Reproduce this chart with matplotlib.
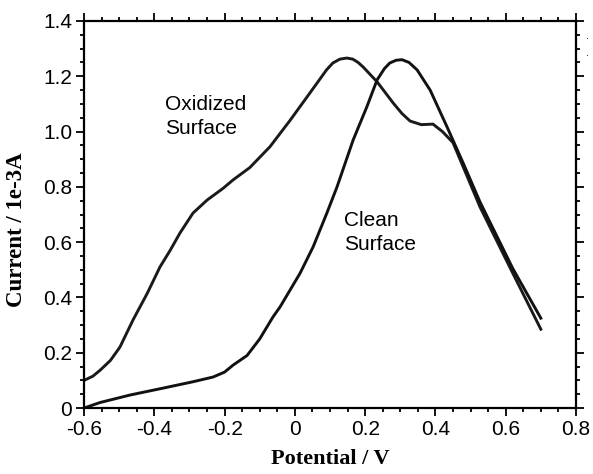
import matplotlib
matplotlib.use("Agg")
import matplotlib.pyplot as plt
from matplotlib.ticker import MultipleLocator

plt.rcParams["axes.unicode_minus"] = False

# Voltammetry curves: current (1e-3 A) vs potential (V)
oxidized_v = [-0.6, -0.575, -0.554, -0.525, -0.498, -0.46, -0.42, -0.384, -0.355, -0.327,
              -0.29, -0.25, -0.204, -0.176, -0.128, -0.071, -0.014, 0.043, 0.09, 0.108,
              0.128, 0.148, 0.165, 0.18, 0.194, 0.234, 0.28, 0.305, 0.328, 0.36, 0.393,
              0.42, 0.45, 0.527, 0.62, 0.70]
oxidized_i = [0.10, 0.115, 0.137, 0.172, 0.22, 0.32, 0.415, 0.51, 0.57, 0.633,
              0.705, 0.752, 0.795, 0.825, 0.87, 0.945, 1.04, 1.14, 1.223, 1.248,
              1.262, 1.266, 1.262, 1.25, 1.234, 1.18, 1.103, 1.065, 1.038, 1.025, 1.027,
              1.0, 0.96, 0.727, 0.488, 0.285]

clean_v = [-0.6, -0.554, -0.469, -0.375, -0.29, -0.233, -0.2, -0.176, -0.136, -0.1,
           -0.062, -0.042, 0.015, 0.052, 0.091, 0.12, 0.166, 0.205, 0.234, 0.255,
           0.27, 0.288, 0.305, 0.325, 0.348, 0.385, 0.433, 0.479, 0.527, 0.62, 0.70]
clean_i = [0.0, 0.02, 0.047, 0.072, 0.095, 0.112, 0.13, 0.155, 0.19, 0.25,
           0.33, 0.366, 0.488, 0.583, 0.705, 0.80, 0.97, 1.09, 1.187, 1.228,
           1.248, 1.258, 1.26, 1.25, 1.223, 1.15, 1.017, 0.886, 0.745, 0.505, 0.325]

x_ticks = [-0.6, -0.4, -0.2, 0.0, 0.2, 0.4, 0.6, 0.8]
x_tick_labels = ["-0.6", "-0.4", "-0.2", "0", "0.2", "0.4", "0.6", "0.8"]
y_ticks = [0.0, 0.2, 0.4, 0.6, 0.8, 1.0, 1.2, 1.4]
y_tick_labels = ["0", "0.2", "0.4", "0.6", "0.8", "1.0", "1.2", "1.4"]

fig = plt.figure(figsize=(5.93, 4.74), dpi=100)
ax = fig.add_axes([0.1417, 0.1392, 0.8296, 0.8165])

ax.plot(oxidized_v, oxidized_i, color="#1a1a1a", lw=2.1, solid_joinstyle="round")
ax.plot(clean_v, clean_i, color="#111111", lw=2.1, solid_joinstyle="round")

ax.set_xlim(-0.6, 0.8)
ax.set_ylim(0, 1.4)

ax.set_xticks(x_ticks)
ax.set_xticklabels(x_tick_labels)
ax.set_yticks(y_ticks)
ax.set_yticklabels(y_tick_labels)
ax.xaxis.set_minor_locator(MultipleLocator(0.05))
ax.yaxis.set_minor_locator(MultipleLocator(0.05))

for s in ax.spines.values():
    s.set_linewidth(1.6)
ax.tick_params(which="both", direction="out", top=True, right=True, width=1.3)
ax.tick_params(which="major", length=5.5, labelsize=15, pad=3)
ax.tick_params(which="minor", length=3)
for lbl in ax.get_xticklabels() + ax.get_yticklabels():
    lbl.set_fontfamily("Liberation Sans")

ax.set_xlabel("Potential / V", fontfamily="Liberation Serif", fontweight="bold",
              fontsize=16, labelpad=7)
ax.set_ylabel("Current / 1e-3A", fontfamily="Liberation Serif", fontweight="bold",
              fontsize=16.5, labelpad=9)
ax.yaxis.set_label_coords(-0.115, 0.46)

ax.text(-0.37, 1.055, "Oxidized\nSurface", fontfamily="Liberation Sans", fontsize=15,
        ha="left", va="center", linespacing=1.35)
ax.text(0.14, 0.635, "Clean\nSurface", fontfamily="Liberation Sans", fontsize=15,
        ha="left", va="center", linespacing=1.3)

fig.text(0.99, 0.925, ".", fontsize=7, ha="center", va="center")
fig.text(0.99, 0.888, ".", fontsize=7, ha="center", va="center")

fig.savefig("out.png", dpi=100)
